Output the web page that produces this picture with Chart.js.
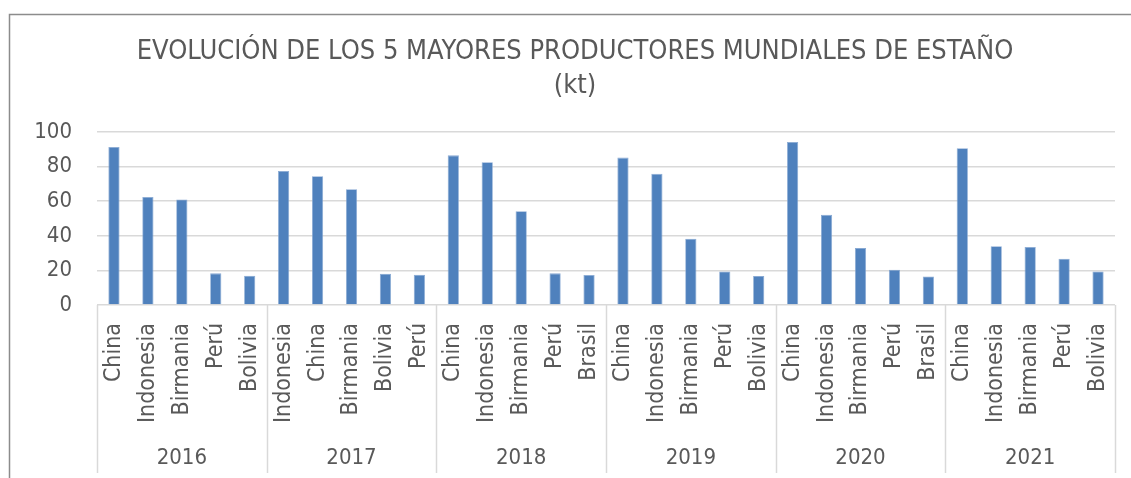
<!DOCTYPE html>
<html>
<head>
<meta charset="utf-8">
<script src="https://cdn.jsdelivr.net/npm/chart.js@4"></script>
<style>
  html, body { margin: 0; padding: 0; background: #fff; }
  #wrap { width: 1131px; height: 478px; }
</style>
</head>
<body>
<div id="wrap"><canvas id="estanoChart" width="1131" height="478"></canvas></div>
<script>
// datos (kt)
const years = ['2016', '2017', '2018', '2019', '2020', '2021'];
const countries = [
    'China', 'Indonesia', 'Birmania', 'Perú', 'Bolivia',
    'Indonesia', 'China', 'Birmania', 'Bolivia', 'Perú',
    'China', 'Indonesia', 'Birmania', 'Perú', 'Brasil',
    'China', 'Indonesia', 'Birmania', 'Perú', 'Bolivia',
    'China', 'Indonesia', 'Birmania', 'Perú', 'Brasil',
    'China', 'Indonesia', 'Birmania', 'Perú', 'Bolivia'
];
const production = [
    91.3, 62.5, 61.0, 18.3, 16.9,
    77.5, 74.4, 66.9, 18.1, 17.5,
    86.5, 82.5, 54.2, 18.3, 17.3,
    85.2, 75.8, 38.3, 19.4, 16.7,
    94.2, 52.1, 32.9, 20.4, 16.5,
    90.6, 34.0, 33.5, 26.7, 19.4
];
const yTicks = [0, 20, 40, 60, 80, 100];
const titleLines = ['EVOLUCIÓN DE LOS 5 MAYORES PRODUCTORES MUNDIALES DE ESTAÑO', '(kt)'];

const FONT = 'DejaVu Sans Condensed';
const TEXT = '#595959';
const GRID = '#d9d9d9';

// marco, titulo y segundo nivel de categorias (años)
const excelLook = {
    id: 'excelLook',
    beforeDraw(chart) {
        const ctx = chart.ctx;
        ctx.save();
        ctx.strokeStyle = '#8c8c8c';
        ctx.lineWidth = 1.5;
        ctx.strokeRect(9.5, 14.5, 1140, 480);
        ctx.restore();
    },
    afterDraw(chart) {
        const ctx = chart.ctx;
        const x = chart.scales.x;
        const area = chart.chartArea;
        const per = countries.length / years.length;
        ctx.save();
        ctx.fillStyle = TEXT;
        ctx.textAlign = 'center';
        ctx.textBaseline = 'middle';
        ctx.font = '27px "' + FONT + '"';
        ctx.fillText(titleLines[0], 575, 52);
        ctx.fillText(titleLines[1], 575, 86);

        ctx.strokeStyle = GRID;
        ctx.lineWidth = 1.5;
        const step = (area.right - area.left) / years.length;
        for (let i = 0; i <= years.length; i++) {
            const px = Math.round(area.left + i * step) + 0.5;
            ctx.beginPath();
            ctx.moveTo(px, area.bottom);
            ctx.lineTo(px, 473);
            ctx.stroke();
        }
        ctx.font = '22px "' + FONT + '"';
        years.forEach((y, i) => {
            const a = x.getPixelForValue(i * per);
            const b = x.getPixelForValue(i * per + per - 1);
            ctx.fillText(y, (a + b) / 2, 458);
        });
        ctx.restore();
    }
};

new Chart(document.getElementById('estanoChart'), {
    type: 'bar',
    data: {
        labels: countries,
        datasets: [{
            label: 'Producción',
            data: production,
            backgroundColor: '#4f81bd',
            borderColor: '#88a9d3',
            borderWidth: 0.8,
            barPercentage: 0.33,
            categoryPercentage: 1
        }]
    },
    options: {
        responsive: false,
        animation: false,
        layout: { padding: { left: 20, right: 16, top: 132, bottom: 0 } },
        plugins: {
            legend: { display: false },
            tooltip: { enabled: false },
            title: { display: false }
        },
        scales: {
            y: {
                min: 0,
                max: 100,
                afterBuildTicks: s => { s.ticks = yTicks.map(v => ({ value: v })); },
                afterFit: s => { s.width = 77; },
                grid: { color: GRID, lineWidth: 1.5, drawTicks: false },
                border: { display: false },
                ticks: { color: TEXT, padding: 25, font: { family: FONT, size: 22 } }
            },
            x: {
                afterFit: s => {
                    s.height = 173;
                    s.paddingLeft = 0;
                    s.paddingRight = 0;
                },
                grid: { display: false },
                border: { display: false },
                ticks: {
                    autoSkip: false,
                    minRotation: 90,
                    maxRotation: 90,
                    padding: 10,
                    color: TEXT,
                    font: { family: FONT, size: 23 }
                }
            }
        }
    },
    plugins: [excelLook]
});
</script>
</body>
</html>
